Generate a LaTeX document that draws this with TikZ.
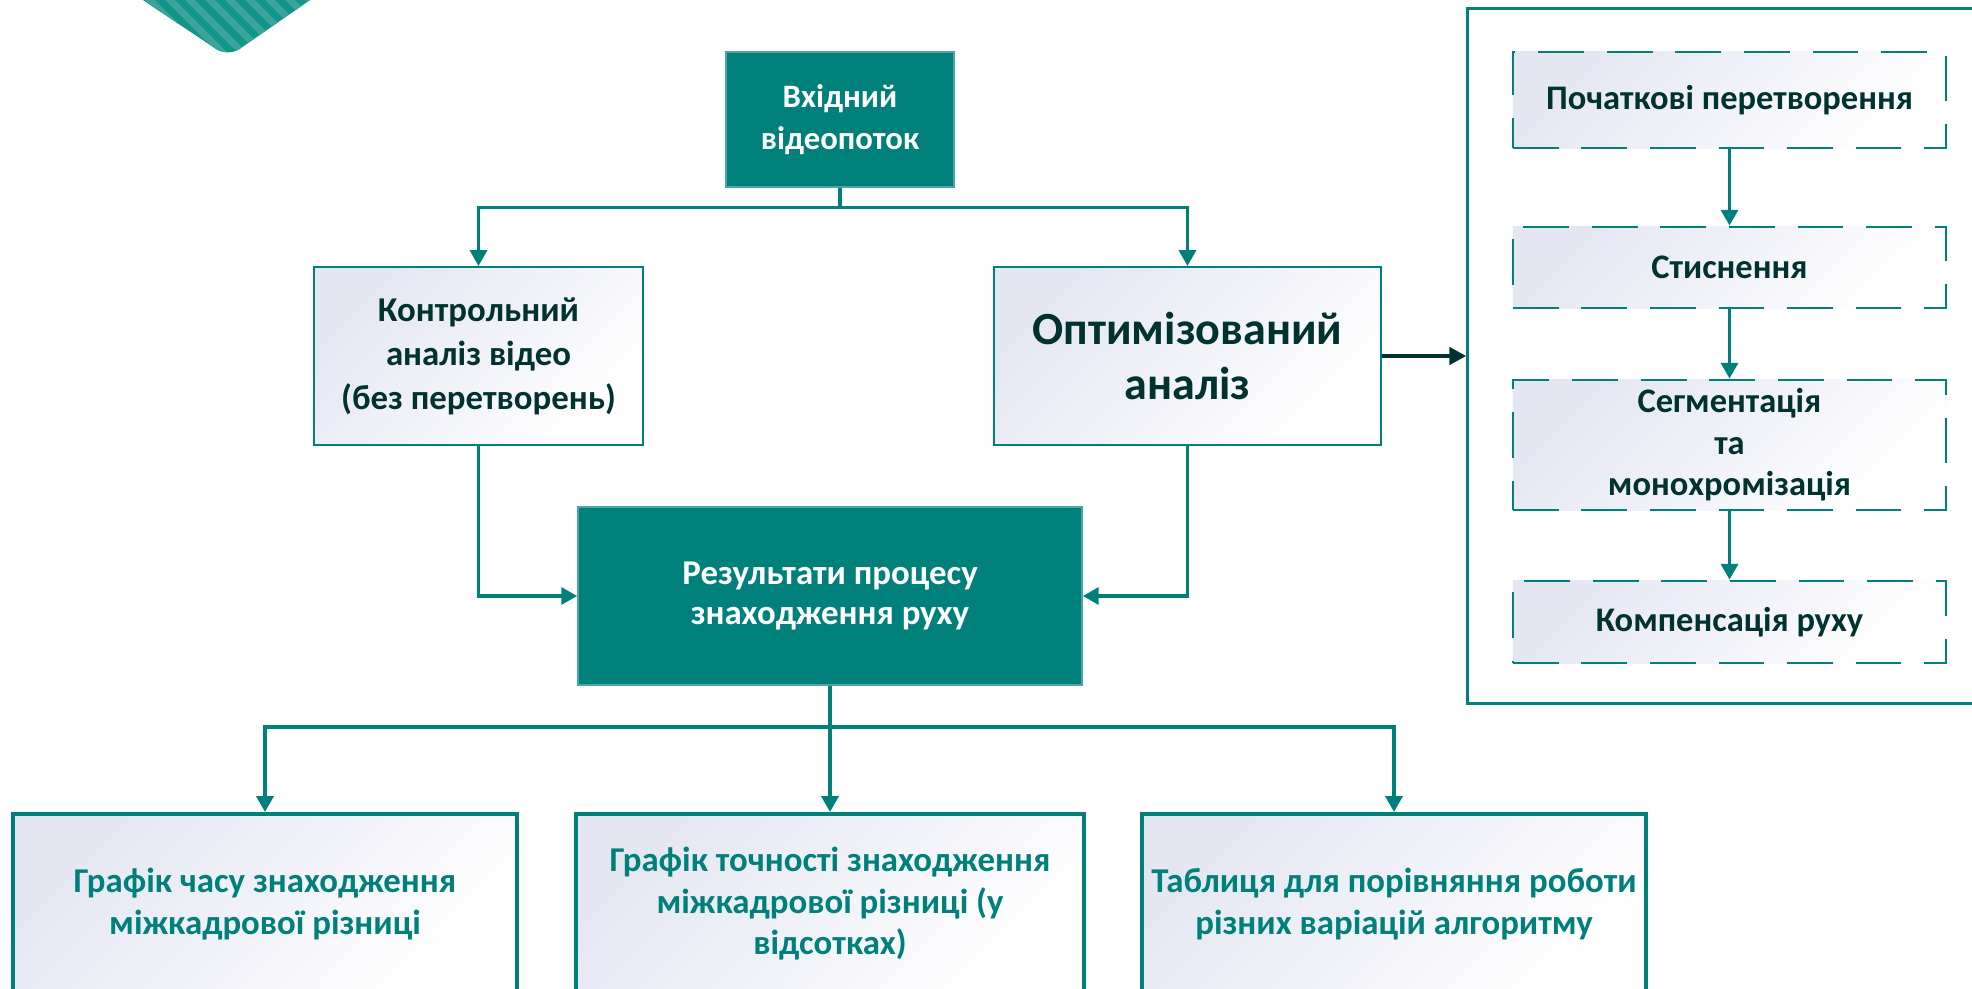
\documentclass[tikz,border=0pt]{standalone}
\usepackage{fontspec}
\setmainfont{Carlito}
\usepackage{tikz}
\usetikzlibrary{arrows.meta,positioning}
\definecolor{vidteal}{HTML}{00807B}
\definecolor{vidtealb}{HTML}{129589}
\definecolor{vidteall}{HTML}{3AA39A}
\definecolor{viddark}{HTML}{00322F}
\definecolor{vidlav}{HTML}{E4E6F2}

\begin{document}
\begin{tikzpicture}[
  x=0.01cm, y=-0.01cm,
  solidbox/.style={draw=vidteal!70!white, line width=0.4pt, fill=vidteal, text=white,
              align=center, inner sep=0pt, font=\bfseries\fontsize{9.9}{11.5}\selectfont},
  lightbox/.style={draw=vidteal, line width=0.5pt, top color=vidlav, middle color=white,
              bottom color=white, shading angle=45, text=viddark, align=center, inner sep=0pt,
              font=\bfseries\fontsize{9.9}{12.5}\selectfont},
  stagebox/.style={lightbox, line width=0.75pt, dash pattern=on 13pt off 6.5pt,
              minimum width=4.33cm, font=\bfseries\fontsize{9.8}{11.8}\selectfont},
  outbox/.style={lightbox, line width=1.1pt, text=vidteal, minimum width=5.04cm,
              minimum height=1.8cm, font=\bfseries\fontsize{9.9}{11.8}\selectfont},
  link/.style={draw=vidteal, line width=1pt, -{Triangle[length=4.5pt,width=4.8pt]}},
  darklink/.style={draw=viddark, line width=1.2pt, -{Triangle[length=4.8pt,width=4.8pt]}}
]
\useasboundingbox (0,0) rectangle (1972,989);

% corner ornament
\begin{scope}
  \clip[rounded corners=4pt] (113,-20) -- (228,57) -- (339,-20) -- cycle;
  \fill[vidtealb] (100,-30) rectangle (360,70);
  \foreach \sx in {0,20,...,360}
    \draw[vidteall, line width=2pt] (\sx,-30) -- ++(100,100);
\end{scope}

\node[solidbox, minimum width=2.28cm, minimum height=1.35cm,
      font=\bfseries\fontsize{9.3}{11.8}\selectfont] (input) at (840,119.5) {Вхідний\\відеопоток};
\node[lightbox, minimum width=3.29cm, minimum height=1.78cm] (control) at (478.5,356)
      {Контрольний\\аналіз відео\\(без перетворень)};
\node[lightbox, minimum width=3.87cm, minimum height=1.78cm,
      font=\bfseries\fontsize{13.1}{15.7}\selectfont] (optimized) at (1187.5,356)
      {Оптимізований\\аналіз};
\node[solidbox, minimum width=5.04cm, minimum height=1.78cm] (result) at (830,596)
      {Результати процесу\\знаходження руху};

\node[draw=vidteal, line width=0.85pt, minimum width=5.32cm, minimum height=6.94cm,
      inner sep=0pt] (stages) at (1734,356) {};
\node[stagebox, minimum height=0.96cm] (initial) at (1729.5,100) {Початкові перетворення};
\node[stagebox, minimum height=0.81cm] (compress) at (1729.5,267.5) {Стиснення};
\node[stagebox, minimum height=1.30cm] (segment) at (1729.5,445) {Сегментація\\та\\монохромізація};
\node[stagebox, minimum height=0.82cm] (compens) at (1729.5,622) {Компенсація руху};

\node[outbox] (timeplot) at (265,904) {Графік часу знаходження\\міжкадрової різниці};
\node[outbox, minimum width=5.08cm] (accplot) at (830,904) {Графік точності знаходження\\міжкадрової різниці (у\\відсотках)};
\node[outbox] (table) at (1394,904) {Таблиця для порівняння роботи\\різних варіацій алгоритму};

\draw[link] (input.south) -- ++(0,20) -| (control.north);
\draw[link] (input.south) -- ++(0,20) -| (optimized.north);
\draw[link] (control.south) |- (result.west);
\draw[link] (optimized.south) |- (result.east);
\draw[darklink] (optimized.east) -- (stages.west);

\draw[link] (initial.south) -- (compress.north);
\draw[link] (compress.south) -- (segment.north);
\draw[link] (segment.south) -- (compens.north);

\draw[link] (result.south) -- ++(0,41) -| (timeplot.north);
\draw[link] (result.south) -- ++(0,41) -| (accplot.north);
\draw[link] (result.south) -- ++(0,41) -| (table.north);
\end{tikzpicture}
\end{document}
